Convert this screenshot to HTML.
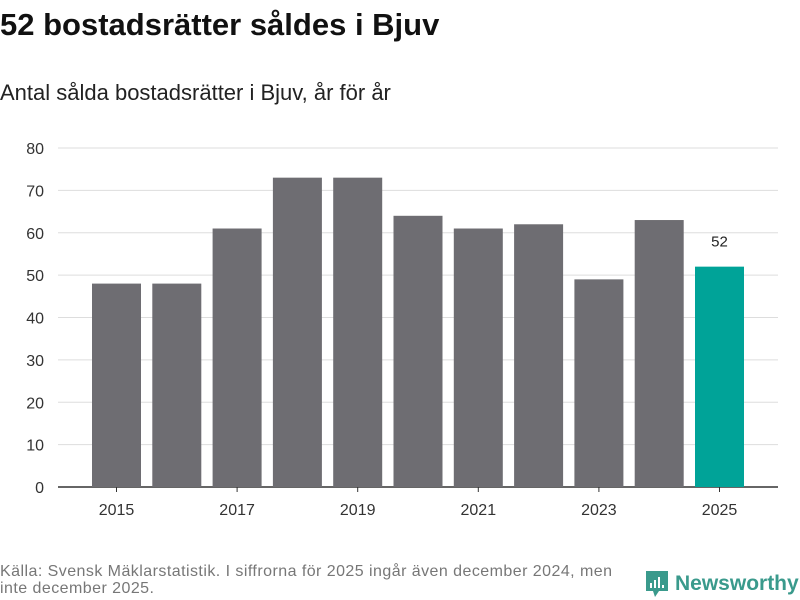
<!DOCTYPE html>
<html><head><meta charset="utf-8"><style>
body{margin:0;width:800px;height:600px;background:#fff;font-family:"Liberation Sans",sans-serif;overflow:hidden;position:relative}
#title{position:absolute;left:0;top:7px;font-size:31px;font-weight:bold;color:#111;margin:0}
#sub{position:absolute;left:0;top:80px;font-size:22px;color:#222}
#src{position:absolute;left:0;top:563px;font-size:16px;letter-spacing:0.45px;color:#777;line-height:17px;width:640px}
#logo{position:absolute;left:645px;top:570px;display:flex;align-items:center;font-size:21px;font-weight:bold;color:#3a9a8c}
</style></head><body>
<h1 id="title">52 bostadsrätter såldes i Bjuv</h1>
<div id="sub">Antal sålda bostadsrätter i Bjuv, år för år</div>
<svg id="chart" width="800" height="600" style="position:absolute;left:0;top:0"></svg>
<div id="src">Källa: Svensk Mäklarstatistik. I siffrorna för 2025 ingår även december 2024, men inte december 2025.</div>
<div id="logo"><svg width="24" height="28" viewBox="0 0 24 28" style="margin-right:6px"><path d="M1 1h22v20H14l-4 6-2-6H1z" fill="#3a9a8c"/><rect x="5" y="13" width="2" height="5" fill="#fff"/><rect x="9" y="10" width="2" height="8" fill="#fff"/><rect x="13" y="7" width="2" height="11" fill="#fff"/><rect x="17" y="15" width="2" height="3" fill="#fff"/></svg>Newsworthy</div>
<script>
const years=[2015,2016,2017,2018,2019,2020,2021,2022,2023,2024,2025];
const values=[48,48,61,73,73,64,61,62,49,63,52];
const yTicks=[0,10,20,30,40,50,60,70,80];
const xLabels=[2015,2017,2019,2021,2023,2025];
const svg=document.getElementById('chart');
const NS='http://www.w3.org/2000/svg';
const x0=58,x1=778,y0=487,yTop=148,yMax=80;
const firstC=116.5,lastC=719.5;
const step=(lastC-firstC)/(years.length-1);
const bw=49;
function y(v){return y0-(v/yMax)*(y0-yTop);}
function xc(i){return firstC+step*i;}
function el(t,a){const e=document.createElementNS(NS,t);for(const k in a)e.setAttribute(k,a[k]);svg.appendChild(e);return e;}
yTicks.forEach(t=>{
 const l=el('line',{x1:x0,x2:x1,y1:y(t),y2:y(t),stroke:t===0?'#333':'#ddd','stroke-width':t===0?1.5:1});
 
 
 const tx=el('text',{x:44,y:y(t)+6,'text-anchor':'end','font-size':16,fill:'#333','font-family':'Liberation Sans, sans-serif'});
 tx.textContent=t;
 
 
});
years.forEach((yr,i)=>{
 const last=i===years.length-1;
 const r=el('rect',{x:xc(i)-bw/2,y:y(values[i]),width:bw,height:y0-y(values[i]),fill:last?'#00a398':'#6e6d72'});
 
 
 if(last){
  const v=el('text',{x:xc(i),y:y(values[i])-20,'text-anchor':'middle','font-size':15,fill:'#222','font-family':'Liberation Sans, sans-serif'});
  v.textContent=values[i];
  
  
 }
 if(xLabels.includes(yr)){
  const tk=el('line',{x1:xc(i),x2:xc(i),y1:y0,y2:y0+5,stroke:'#333'});
  
  
  const t=el('text',{x:xc(i),y:515,'text-anchor':'middle','font-size':16,fill:'#333','font-family':'Liberation Sans, sans-serif'});
  t.textContent=yr;
  
  
 }
});
</script>
</body></html>
